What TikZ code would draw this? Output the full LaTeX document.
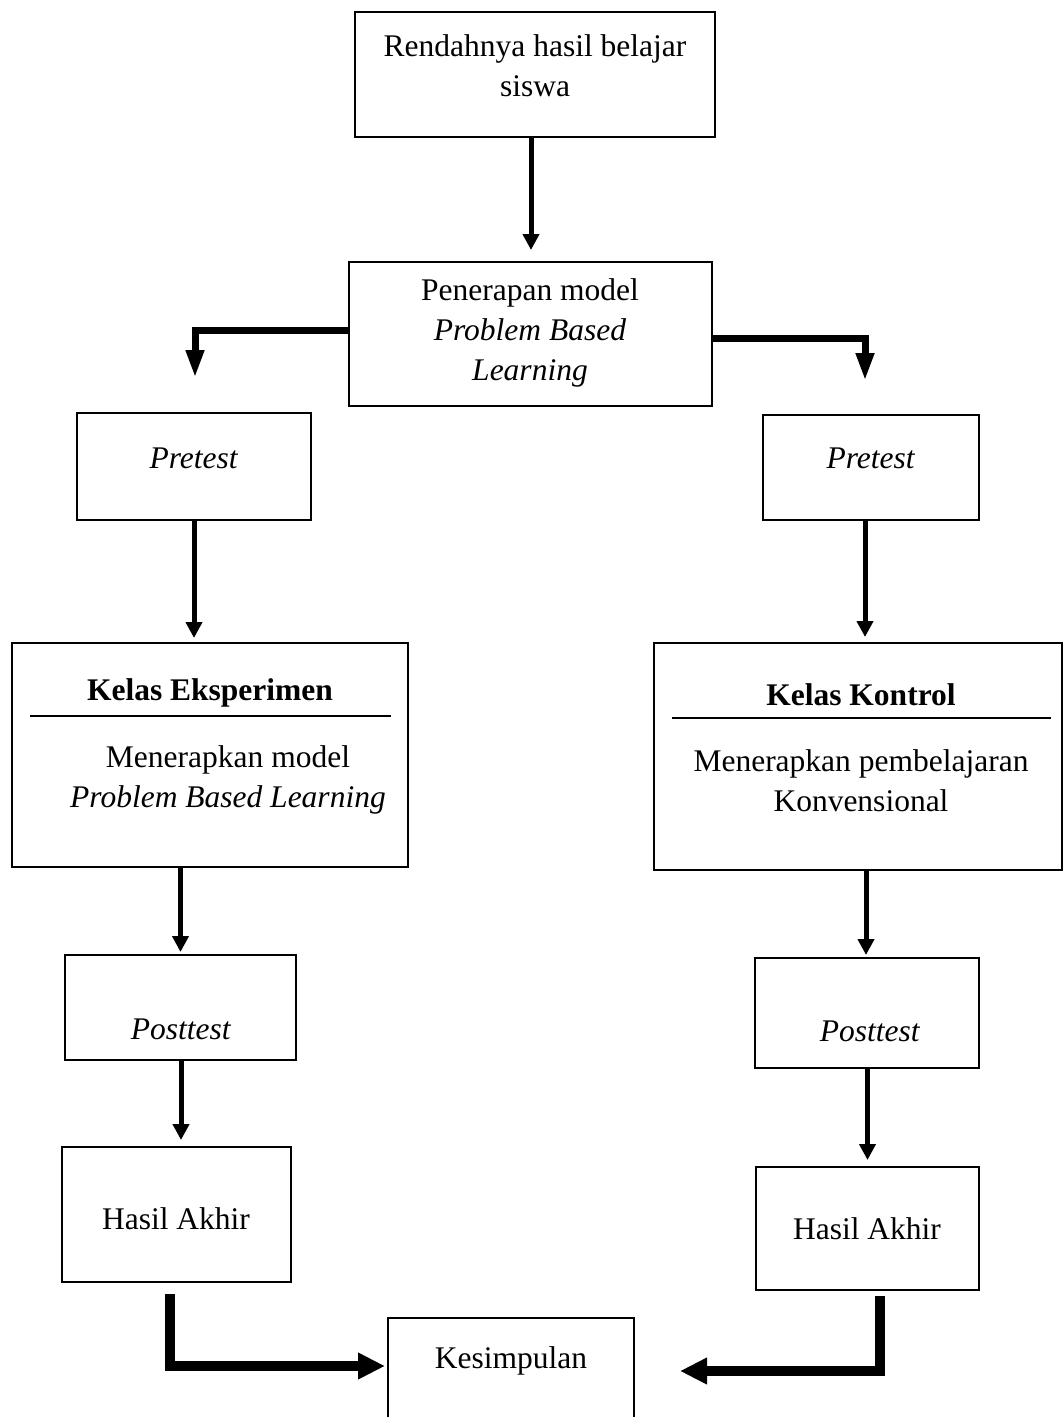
\documentclass[tikz,border=0pt]{standalone}
\usepackage{fontspec}
\setmainfont{Liberation Serif}
\usetikzlibrary{arrows.meta}
\begin{document}
\begin{tikzpicture}[x=1pt,y=-1pt,
  box/.style={draw,line width=2.5pt,inner sep=0pt,outer sep=0pt,rectangle},
  txt/.style={align=center,inner sep=0pt,font=\fontsize{31.5}{40}\selectfont},
  varrow/.style={line width=5pt,-{Triangle[length=16pt,width=16pt]}},
  elbow/.style={line width=7pt,-{Triangle[length=28pt,width=17pt]}},
  fat/.style={line width=10pt,-{Triangle[length=27pt,width=25pt]}}]
\clip (0,0) rectangle (1063,1417);
\fill[white] (0,0) rectangle (1063,1417);
% boxes
\node[box,minimum width=360pt,minimum height=125pt] (top) at (535,74.5) {};
\node[box,minimum width=363pt,minimum height=144pt] (pen) at (530.5,334) {};
\node[box,minimum width=234pt,minimum height=107pt] (preL) at (194,466.5) {};
\node[box,minimum width=216pt,minimum height=105pt] (preR) at (871,467.5) {};
\node[box,minimum width=396pt,minimum height=224pt] (KE) at (210,755) {};
\node[box,minimum width=408pt,minimum height=227pt] (KK) at (858,756.5) {};
\node[box,minimum width=231pt,minimum height=105pt] (postL) at (180.5,1007.5) {};
\node[box,minimum width=224pt,minimum height=110pt] (postR) at (867,1013) {};
\node[box,minimum width=229pt,minimum height=135pt] (HL) at (176.5,1214.5) {};
\node[box,minimum width=223pt,minimum height=123pt] (HR) at (867.5,1228.5) {};
\node[box,minimum width=246pt,minimum height=122pt] (Kes) at (511,1379) {};
% texts
\node[txt] (t1) at (535,66) {Rendahnya hasil belajar\\siswa};
\node[txt] (t2) at (530,333) {Penerapan model\\\textit{Problem Based}\\\textit{Learning}};
\node[txt] (t3) at (194,458) {\textit{Pretest}};
\node[txt] (t4) at (871,458) {\textit{Pretest}};
\node[txt] (t5) at (210,693) {\textbf{Kelas Eksperimen}};
\draw[line width=2pt] (30,716) -- (391,716);
\node[txt] (t6) at (228,780) {Menerapkan model\\\textit{Problem Based Learning}};
\node[txt] (t7) at (861,695) {\textbf{Kelas Kontrol}};
\draw[line width=2pt] (672,718) -- (1051,718);
\node[txt] (t8) at (861,781) {Menerapkan pembelajaran\\Konvensional};
\node[txt] (t9) at (181,1029) {\textit{Posttest}};
\node[txt] (t10) at (870,1031) {\textit{Posttest}};
\node[txt] (t11) at (176,1219) {Hasil Akhir};
\node[txt] (t12) at (867,1229) {Hasil Akhir};
\node[txt] (t13) at (511,1361) {Kesimpulan};
% connectors
\draw[varrow,shorten >=12pt] ([xshift=-4pt]top.south) -- ([xshift=-4pt]top.south |- pen.north);
\draw[elbow,shorten >=35pt] ([yshift=4pt]pen.west) -| ([xshift=1pt]preL.north);
\draw[elbow,shorten >=34pt] ([yshift=-4pt]pen.east) -| ([xshift=-6pt]preR.north);
\draw[varrow,shorten >=5pt] (preL.south) -- (preL.south |- KE.north);
\draw[varrow,shorten >=6pt] ([xshift=-6pt]preR.south) -- ([xshift=-6pt]preR.south |- KK.north);
\draw[varrow,shorten >=3pt] (postL.north |- KE.south) -- (postL.north);
\draw[varrow,shorten >=3pt] ([xshift=-1pt]postR.north |- KK.south) -- ([xshift=-1pt]postR.north);
\draw[varrow,shorten >=7pt] ([xshift=4.5pt]HL.north |- postL.south) -- ([xshift=4.5pt]HL.north);
\draw[varrow,shorten >=7pt] (HR.north |- postR.south) -- (HR.north);
\draw[fat,shorten <=12pt,shorten >=3pt] ([xshift=-6.5pt]HL.south) |- ([yshift=13pt]Kes.west);
\draw[fat,shorten <=6pt,shorten >=46pt] ([xshift=12.5pt]HR.south) |- ([yshift=8pt]Kes.east);
\end{tikzpicture}
\end{document}
